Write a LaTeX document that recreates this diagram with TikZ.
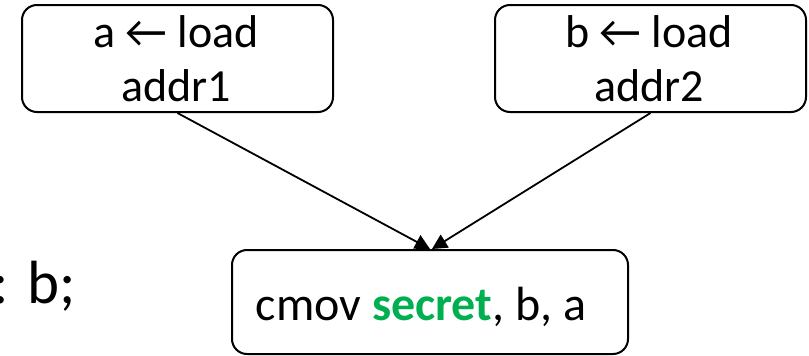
\documentclass[tikz,border=0pt]{standalone}
\usepackage{fontspec}
\setmainfont{Carlito}
\usetikzlibrary{arrows.meta}
\definecolor{offgreen}{HTML}{00B050}
\begin{document}
\begin{tikzpicture}[x=1pt,y=-1pt,
  box/.style={draw=black, line width=2pt, rounded corners=15pt, inner sep=0pt},
  conn/.style={line width=1.8pt, -{Triangle[length=15pt,width=15pt]}},
  txt/.style={inner sep=0pt, anchor=base, font=\fontsize{46}{46}\selectfont}]
\useasboundingbox (0,0) rectangle (809,356);
\node[box, minimum width=311pt, minimum height=107pt] (b1) at (177.5,58.5) {};
\node[box, minimum width=311pt, minimum height=107pt] (b2) at (650.5,58.5) {};
\node[box, minimum width=396pt, minimum height=104pt] (cm) at (430,302) {};
\node[txt] (t1a) at (176,47) {a ← load};
\node[txt] (t1b) at (176,101) {addr1};
\node[txt] (t2a) at (649,47) {b ← load};
\node[txt] (t2b) at (649,101) {addr2};
\node[txt, font=\fontsize{48}{48}\selectfont] (t3) at (421,320) {cmov \textbf{\textcolor{offgreen}{secret}}, b, a};
\node[inner sep=0pt, anchor=base east, font=\fontsize{61}{61}\selectfont] (lft) at (76,303) {: b;};
\draw[conn] (b1.south) -- ([xshift=0pt]cm.north);
\draw[conn] (b2.south) -- ([xshift=2pt]cm.north);
\end{tikzpicture}
\end{document}
